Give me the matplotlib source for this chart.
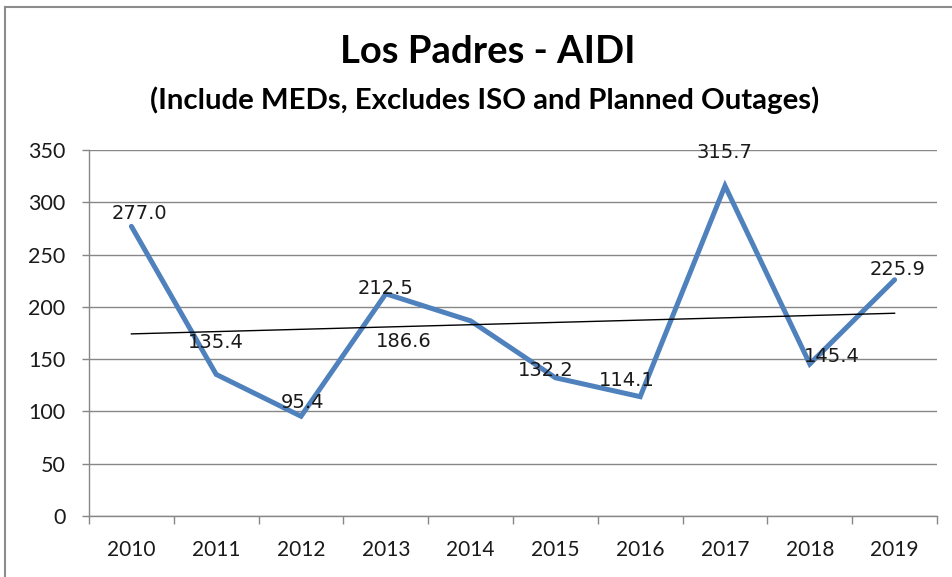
import numpy as np
import matplotlib
matplotlib.use("Agg")
import matplotlib.pyplot as plt
from matplotlib.lines import Line2D

# data
years = ['2010', '2011', '2012', '2013', '2014', '2015', '2016', '2017', '2018', '2019']
aidi = [277.0, 135.4, 95.4, 212.5, 186.6, 132.2, 114.1, 315.7, 145.4, 225.9]

# label offsets (pixels, dx / dy up) - labels were moved by hand in the original
label_dx = [8, 0, 1, 0, -67, -10, -13, -1, 22, 3]
label_dy = [13, 32, 14, 5, -21, 7, 16, 33, 7, 10]

plt.rcParams['font.family'] = ['Lato', 'DejaVu Sans']

fig = plt.figure(figsize=(9.53, 5.77), dpi=100)
ax = fig.add_axes([89/953, 1 - 516/577, (937 - 89)/953, (516 - 150)/577])

x = np.arange(len(years))
ax.plot(x, aidi, color='#4F81BD', lw=3.6, solid_capstyle='round', solid_joinstyle='miter', zorder=3)

# linear trendline like excel
k, b = np.polyfit(x, aidi, 1)
ax.plot(x, k*x + b, color='black', lw=1.0, zorder=4)

for i, v in enumerate(aidi):
    ax.annotate('%.1f' % v, (x[i], v), xytext=(label_dx[i]*0.72, label_dy[i]*0.72),
                textcoords='offset points', ha='center', va='center',
                fontsize=14, family='DejaVu Sans', color='#1a1a1a', zorder=5)

ax.set_xlim(-0.5, 9.5)
ax.set_ylim(0, 350)
ax.set_yticks(np.arange(0, 351, 50))
ax.yaxis.grid(True, color='#878787', lw=1.0)
ax.set_axisbelow(True)

ax.set_xticks(np.arange(-0.5, 10, 1))
ax.set_xticklabels([])
ax.set_xticks(x, minor=True)
ax.set_xticklabels(years, minor=True)
ax.tick_params(axis='x', which='major', length=6, width=1, color='#878787', direction='out')
ax.tick_params(axis='x', which='minor', length=0, pad=17, labelsize=15, labelcolor='#1a1a1a')
ax.tick_params(axis='y', length=5, width=1, color='#878787', pad=12, labelsize=15.5, labelcolor='#1a1a1a')

for s in ['top', 'right']:
    ax.spines[s].set_visible(False)
for s in ['left', 'bottom']:
    ax.spines[s].set_color('#878787')
    ax.spines[s].set_linewidth(1.0)

fig.text(488/953, 1 - 52/577, 'Los Padres - AIDI', ha='center', va='center',
         fontsize=27.5, fontweight='bold', color='black')
fig.text(485/953, 1 - 100/577, '(Include MEDs, Excludes ISO and Planned Outages)', ha='center', va='center',
         fontsize=21.2, fontweight='bold', color='black')

# chart frame
fig.add_artist(Line2D([5/953, 5/953], [-0.05, 1 - 7/577], color='#8c8c8c', lw=1.5))
fig.add_artist(Line2D([5/953, 1.05], [1 - 7/577, 1 - 7/577], color='#8c8c8c', lw=1.5))

fig.savefig('out.png', dpi=100)
